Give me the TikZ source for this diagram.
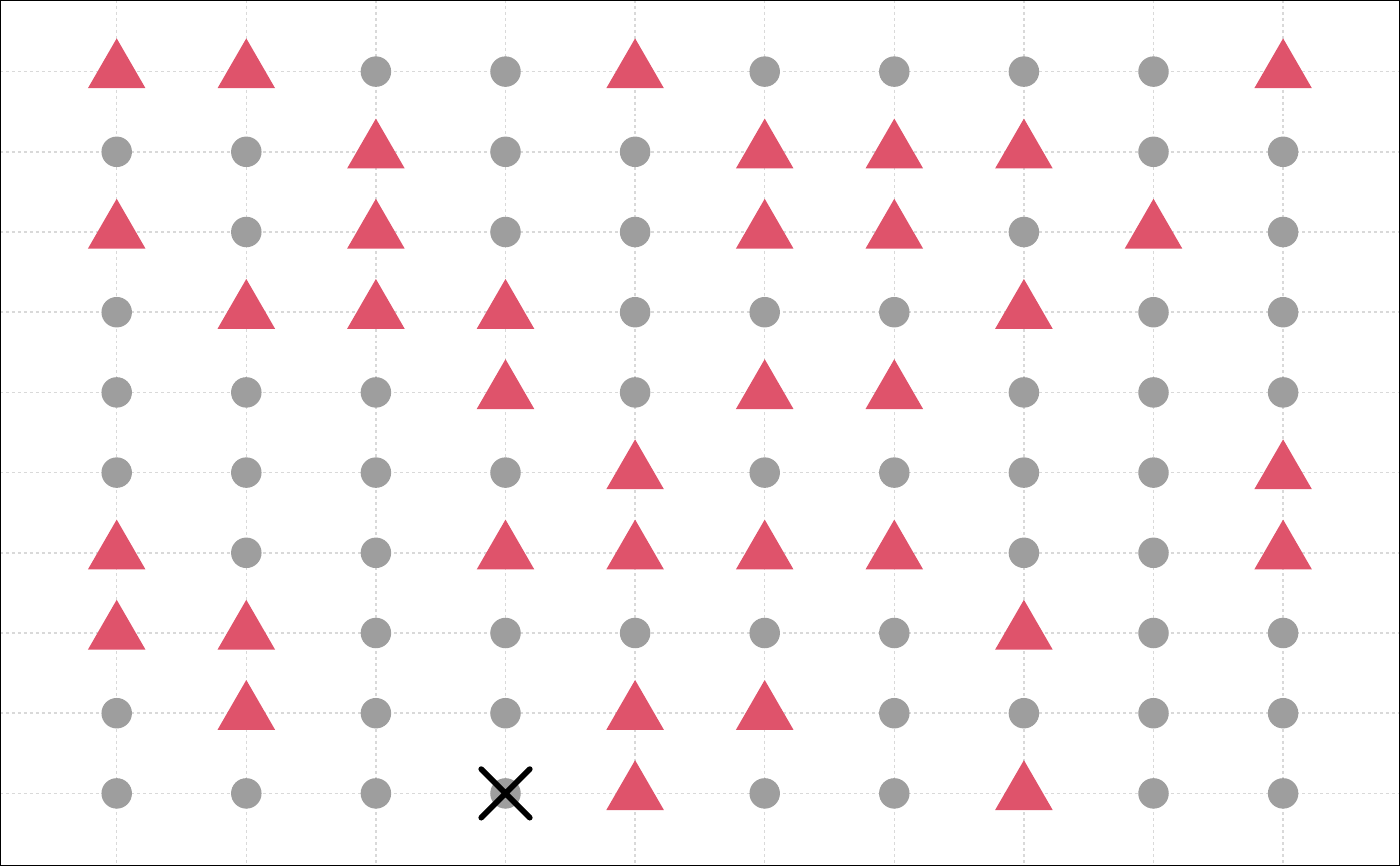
\documentclass[tikz,border=0pt]{standalone}
\usetikzlibrary{shapes.geometric,shapes.misc}
\definecolor{trired}{HTML}{DF536B}
\definecolor{dotgray}{HTML}{9E9E9E}
\begin{document}
\begin{tikzpicture}[x=0.02cm,y=-0.02cm] % поле 10x10
\tikzstyle{gridline} = [gray!30, line width=0.85pt, dash pattern=on 1.7pt off 1.7pt] % dashed grid style
\tikzstyle{shp0} = [circle, fill=dotgray, minimum size=0.61cm, inner sep=0pt] % gray dot
\tikzstyle{shp1} = [regular polygon, regular polygon sides=3, fill=trired, minimum size=1.33cm, inner sep=0pt] % red triangle
\tikzstyle{mycross} = [cross out, draw, line width=3.2pt, line cap=round, minimum size=0.86cm, inner sep=0pt] % marked cell

\useasboundingbox (0,0) rectangle (1400,866);
%
\foreach \i in {0,...,9} \draw[gridline] (116.7+129.6*\i,0) -- (116.7+129.6*\i,866);
\foreach \j in {0,...,9} \draw[gridline] (0,71.6+80.2*\j) -- (1400,71.6+80.2*\j);
%
\foreach \r [count=\j from 0] in {
	{1,1,0,0,1,0,0,0,0,1},
	{0,0,1,0,0,1,1,1,0,0},
	{1,0,1,0,0,1,1,0,1,0},
	{0,1,1,1,0,0,0,1,0,0},
	{0,0,0,1,0,1,1,0,0,0},
	{0,0,0,0,1,0,0,0,0,1},
	{1,0,0,1,1,1,1,0,0,1},
	{1,1,0,0,0,0,0,1,0,0},
	{0,1,0,0,1,1,0,0,0,0},
	{0,0,0,0,1,0,0,1,0,0}}
	\foreach \v [count=\i from 0] in \r
		\node[shp\v] (p-\i-\j) at (116.7+129.6*\i,71.6+80.2*\j) {};
%
\node[mycross] (mark) at (p-3-9) {};
\draw[line width=0.6pt] (0.5,0.5) rectangle (1399.5,865.5);
\end{tikzpicture}
\end{document}
